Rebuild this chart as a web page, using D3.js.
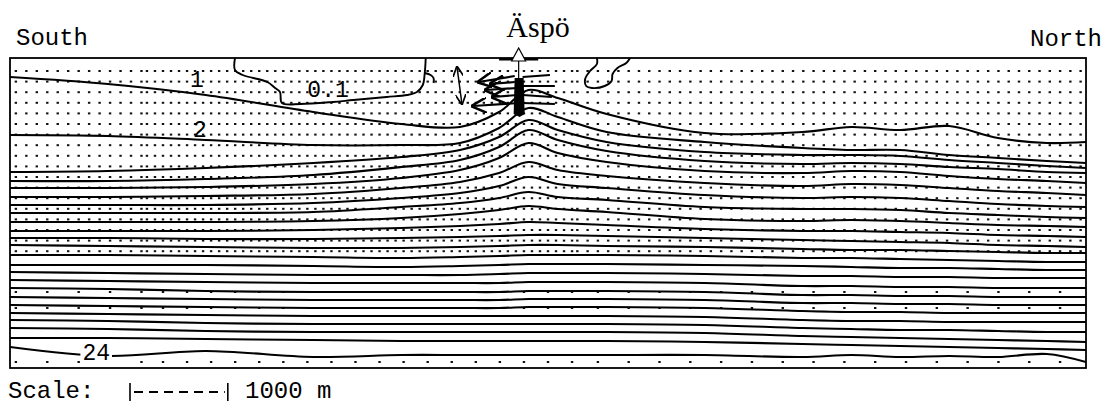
<!DOCTYPE html>
<html>
<head>
<meta charset="utf-8">
<script src="https://cdn.jsdelivr.net/npm/d3@7"></script>
<style>
body { margin: 0; background: #fff; }
</style>
</head>
<body>
<svg id="chart" width="1115" height="409"></svg>
<script>
// section stations along the profile (km, south -> north)
var stationsKm = [0, 1.0, 2.0, 3.1, 4.0, 4.6, 5.0, 5.3, 5.6, 6.1, 7.1, 8.1, 8.6, 9.1, 9.6, 10.1, 10.6, 11.0];

// salinity levels of the iso-lines
var levels = d3.range(1, 25);

// depth (m) of every iso-line at each station
var contourDepths = [
  [190, 260, 370, 540, 660, 690, 540, 320, 400, 560, 750, 740, 690, 720, 680, 800, 850, 840],          // 1
  [770, 780, 820, 870, 870, 850, 700, 500, 590, 740, 840, 900, 920, 920, 970, 1000, 1030, 1050],        // 2
  [1140, 1130, 1100, 1050, 990, 920, 790, 620, 720, 840, 940, 970, 970, 980, 1020, 1050, 1080, 1100],   // 3
  [1230, 1230, 1210, 1170, 1090, 1020, 890, 720, 820, 930, 1030, 1060, 1050, 1060, 1090, 1110, 1140, 1150],
  [1300, 1300, 1290, 1260, 1200, 1120, 1000, 850, 950, 1040, 1130, 1150, 1130, 1140, 1180, 1210, 1230, 1250],
  [1390, 1390, 1380, 1360, 1300, 1240, 1150, 1040, 1120, 1180, 1250, 1280, 1260, 1270, 1300, 1330, 1350, 1370],
  [1470, 1470, 1470, 1450, 1400, 1350, 1280, 1190, 1260, 1300, 1370, 1400, 1390, 1400, 1430, 1460, 1480, 1490],
  [1550, 1550, 1550, 1540, 1490, 1450, 1400, 1340, 1390, 1420, 1490, 1510, 1510, 1520, 1550, 1570, 1590, 1600],
  [1640, 1640, 1640, 1630, 1600, 1560, 1520, 1480, 1510, 1540, 1610, 1630, 1620, 1630, 1650, 1670, 1680, 1690],
  [1730, 1730, 1730, 1720, 1700, 1680, 1660, 1640, 1650, 1670, 1710, 1730, 1730, 1740, 1750, 1770, 1780, 1790],
  [1800, 1800, 1810, 1810, 1800, 1790, 1780, 1770, 1770, 1780, 1800, 1820, 1830, 1840, 1850, 1870, 1880, 1890],
  [1870, 1880, 1890, 1900, 1900, 1890, 1880, 1870, 1870, 1880, 1890, 1910, 1920, 1920, 1930, 1940, 1950, 1950],
  [1970, 1970, 1980, 1990, 2000, 1990, 1980, 1970, 1970, 1970, 1980, 2000, 2000, 2010, 2020, 2030, 2040, 2040],
  [2070, 2070, 2070, 2080, 2090, 2080, 2070, 2060, 2060, 2060, 2070, 2080, 2090, 2100, 2100, 2110, 2120, 2120],
  [2140, 2150, 2160, 2170, 2170, 2170, 2160, 2150, 2150, 2150, 2160, 2180, 2180, 2190, 2190, 2200, 2200, 2200],
  [2220, 2230, 2240, 2250, 2250, 2250, 2250, 2240, 2240, 2240, 2250, 2280, 2280, 2290, 2290, 2300, 2300, 2300],
  [2300, 2310, 2330, 2340, 2340, 2340, 2340, 2330, 2330, 2330, 2340, 2370, 2370, 2380, 2380, 2390, 2390, 2390],
  [2390, 2400, 2410, 2420, 2420, 2420, 2420, 2410, 2410, 2410, 2420, 2450, 2450, 2460, 2460, 2470, 2470, 2470],
  [2470, 2480, 2490, 2500, 2500, 2500, 2500, 2490, 2490, 2490, 2500, 2530, 2540, 2540, 2550, 2550, 2550, 2550],
  [2550, 2560, 2570, 2580, 2580, 2580, 2580, 2580, 2580, 2580, 2590, 2620, 2630, 2630, 2640, 2640, 2640, 2640],
  [2620, 2630, 2650, 2660, 2660, 2660, 2660, 2660, 2660, 2660, 2670, 2700, 2710, 2720, 2720, 2730, 2740, 2740],
  [2700, 2710, 2730, 2740, 2740, 2740, 2740, 2740, 2740, 2740, 2750, 2780, 2790, 2800, 2810, 2820, 2830, 2840],
  [2800, 2800, 2810, 2820, 2830, 2830, 2830, 2830, 2830, 2830, 2840, 2860, 2870, 2880, 2890, 2900, 2910, 2920],
  [2890, 2980, 2930, 2990, 2970, 2970, 2970, 2970, 2970, 2970, 2970, 2990, 2970, 2990, 2980, 2990, 2960, 3040]  // 24
];

// the 0.1 iso-line: two fresh pockets under the sea floor
var freshPocketA = [[2.30, 0], [2.30, 120], [2.38, 170], [2.63, 240], [2.71, 300], [2.76, 340], [2.78, 450],
  [2.97, 460], [3.30, 440], [3.51, 420], [3.85, 390], [4.06, 370], [4.16, 340], [4.22, 270], [4.24, 150],
  [4.25, 0]];
var freshHook = [[4.24, 150], [4.30, 170], [4.33, 200], [4.33, 250]];
var freshPocketB = [[6.00, 0], [6.00, 60], [5.93, 130], [5.88, 210], [5.89, 280], [5.95, 300], [6.08, 280],
  [6.15, 230], [6.16, 160], [6.21, 100], [6.30, 50], [6.34, 0]];

// flow vectors around the island [x0, z0, x1, z1]
var flowOut = [
  [5.16, 180, 4.79, 240], [5.16, 240, 4.91, 260], [5.19, 300, 4.86, 320],
  [5.19, 370, 4.93, 390], [5.21, 450, 4.73, 480]
];
var flowEast = [
  [5.24, 190, 5.52, 170], [5.24, 280, 5.57, 280], [5.24, 370, 5.54, 390], [5.24, 450, 5.57, 460]
];
var flowVertical = [4.57, 90, 4.62, 460];

// iso-line labels
var lineLabels = [
  {text: "1", km: 1.84, z: 290}, {text: "2", km: 1.87, z: 790},
  {text: "0.1", km: 3.04, z: 390}, {text: "24", km: 0.74, z: 3020}
];

var svg = d3.select("#chart");
var x = d3.scaleLinear().domain([0, 11]).range([10, 1086]);
var y = d3.scaleLinear().domain([0, 3100]).range([58, 368]);

var defs = svg.append("defs");
defs.append("clipPath").attr("id", "frame")
  .append("rect").attr("x", 10).attr("y", 58).attr("width", 1076).attr("height", 310);
defs.append("marker").attr("id", "head")
  .attr("viewBox", "0 0 10 10").attr("refX", 9).attr("refY", 5)
  .attr("markerWidth", 7).attr("markerHeight", 7).attr("orient", "auto-start-reverse")
  .append("path").attr("d", "M0,0 L10,5 L0,10").attr("fill", "none")
  .attr("stroke", "#000").attr("stroke-width", 1.6);

var plot = svg.append("g").attr("clip-path", "url(#frame)");

// velocity grid (model nodes)
var gridCols = d3.range(0.06, 1.4, 0.107).concat(d3.range(1.4, 5.8, 0.082), d3.range(5.8, 11, 0.105));
var upperRows = d3.range(130, 1950, 106);
var lowerRows = [2340, 2500, 3040];
var dots = [];
upperRows.forEach(function(z) {
  gridCols.forEach(function(c) { dots.push([c, z]); });
});
lowerRows.forEach(function(z) {
  gridCols.forEach(function(c, i) { if (i % 3 == 0) dots.push([c, z]); });
});
plot.append("g").selectAll("rect").data(dots).enter().append("rect")
  .attr("x", function(d) { return x(d[0]) - 1.2; })
  .attr("y", function(d) { return y(d[1]) - 1; })
  .attr("width", 2.4).attr("height", 2)
  .attr("fill", "#111");

var line = d3.line()
  .x(function(d, i) { return x(stationsKm[i]); })
  .y(function(d) { return y(d); })
  .curve(d3.curveCatmullRom.alpha(0.5));

plot.append("g").selectAll("path").data(contourDepths).enter().append("path")
  .attr("d", line)
  .attr("fill", "none").attr("stroke", "#000").attr("stroke-width", 2.1);

var pocket = d3.line()
  .x(function(d) { return x(d[0]); })
  .y(function(d) { return y(d[1]); })
  .curve(d3.curveCatmullRom.alpha(0.5));

[freshPocketA, freshHook, freshPocketB].forEach(function(p) {
  plot.append("path").attr("d", pocket(p))
    .attr("fill", "none").attr("stroke", "#000").attr("stroke-width", 1.9);
});

// island flow
var g_flow = plot.append("g").attr("stroke", "#000").attr("fill", "none");
g_flow.selectAll("line.out").data(flowOut).enter().append("line")
  .attr("x1", function(d) { return x(d[0]); }).attr("y1", function(d) { return y(d[1]); })
  .attr("x2", function(d) { return x(d[2]); }).attr("y2", function(d) { return y(d[3]); })
  .attr("stroke-width", 2.2).attr("marker-end", "url(#head)");
g_flow.selectAll("line.east").data(flowEast).enter().append("line")
  .attr("x1", function(d) { return x(d[0]); }).attr("y1", function(d) { return y(d[1]); })
  .attr("x2", function(d) { return x(d[2]); }).attr("y2", function(d) { return y(d[3]); })
  .attr("stroke-width", 1.8);
g_flow.append("line")
  .attr("x1", x(flowVertical[0])).attr("y1", y(flowVertical[1]))
  .attr("x2", x(flowVertical[2])).attr("y2", y(flowVertical[3]))
  .attr("stroke-width", 1.5)
  .attr("marker-start", "url(#head)").attr("marker-end", "url(#head)");

// island discharge zone
var isleKm = 5.2;
plot.append("path")
  .attr("d", "M" + (x(isleKm) - 4) + "," + y(200) + " L" + (x(isleKm) + 5) + "," + y(200) +
    " L" + (x(isleKm) + 6) + "," + y(560) + " L" + (x(isleKm) + 1) + "," + y(590) +
    " L" + (x(isleKm) - 5) + "," + y(560) + " Z")
  .attr("fill", "#000");
plot.append("line").attr("x1", x(isleKm - 0.2)).attr("x2", x(isleKm + 0.2))
  .attr("y1", y(10)).attr("y2", y(10)).attr("stroke", "#000").attr("stroke-width", 3);

// frame
svg.append("rect").attr("x", 10).attr("y", 58).attr("width", 1076).attr("height", 310)
  .attr("fill", "none").attr("stroke", "#000").attr("stroke-width", 1.8);

// Äspö marker
var ax = x(isleKm);
svg.append("line").attr("x1", ax).attr("x2", ax).attr("y1", 50).attr("y2", y(560))
  .attr("stroke", "#000").attr("stroke-width", 1.2);
svg.append("path")
  .attr("d", "M" + ax + ",48 L" + (ax - 7) + ",61 L" + (ax + 7) + ",61 Z")
  .attr("fill", "#fff").attr("stroke", "#000").attr("stroke-width", 1.2);

svg.append("text").attr("x", 538).attr("y", 37).attr("text-anchor", "middle")
  .style("font-family", "'Liberation Serif', 'DejaVu Serif', serif").style("font-size", "30px")
  .text("Äspö");

var mono = "'Liberation Mono', 'DejaVu Sans Mono', monospace";
svg.append("text").attr("x", 16).attr("y", 45)
  .style("font-family", mono).style("font-size", "24px").text("South");
svg.append("text").attr("x", 1030).attr("y", 46)
  .style("font-family", mono).style("font-size", "24px").text("North");

var labelG = svg.append("g");
lineLabels.forEach(function(l) {
  var t = labelG.append("text").attr("x", x(l.km)).attr("y", y(l.z))
    .style("font-family", mono).style("font-size", "23px").text(l.text);
  if (l.text == "24") {
    var b = t.node().getBBox();
    labelG.insert("rect", "text").attr("x", b.x - 2).attr("y", b.y + 3)
      .attr("width", b.width + 4).attr("height", b.height - 6).attr("fill", "#fff");
  }
});

// scale bar
svg.append("text").attr("x", 8).attr("y", 398)
  .style("font-family", mono).style("font-size", "24px").text("Scale:");
var barX0 = 130, barLen = x(1) - x(0);
var bar = svg.append("g").attr("stroke", "#000");
bar.append("line").attr("x1", barX0).attr("x2", barX0).attr("y1", 383).attr("y2", 401).attr("stroke-width", 1.6);
bar.append("line").attr("x1", barX0 + barLen).attr("x2", barX0 + barLen).attr("y1", 383).attr("y2", 401).attr("stroke-width", 1.6);
bar.append("line").attr("x1", barX0 + 4).attr("x2", barX0 + barLen - 3).attr("y1", 392).attr("y2", 392)
  .attr("stroke-width", 1.8).attr("stroke-dasharray", "9,6");
svg.append("text").attr("x", 245).attr("y", 398)
  .style("font-family", mono).style("font-size", "24px").text("1000 m");
</script>
</body>
</html>
